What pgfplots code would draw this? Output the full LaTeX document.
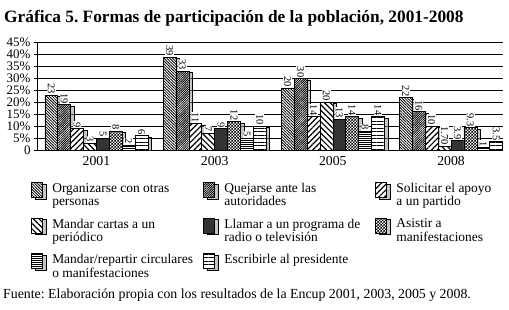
\documentclass[border=0pt]{standalone}
\usepackage{fontspec}
\setmainfont{Liberation Serif}
\usepackage{pgfplots}
\pgfplotsset{compat=1.18}
\usetikzlibrary{patterns,patterns.meta}
\frenchspacing

\pgfdeclarepatternformonly{checker}{\pgfqpoint{0pt}{0pt}}{\pgfqpoint{3pt}{3pt}}{\pgfqpoint{3pt}{3pt}}{%
 \pgfpathrectangle{\pgfqpoint{0pt}{0pt}}{\pgfqpoint{1.5pt}{1.5pt}}%
 \pgfpathrectangle{\pgfqpoint{1.5pt}{1.5pt}}{\pgfqpoint{1.5pt}{1.5pt}}%
 \pgfusepath{fill}}

\tikzset{
 barbase/.style={draw=black, line width=0.6bp,
   preaction={fill=black!45, fill opacity=0.5, transform canvas={xshift=3.5bp, yshift=-1.5bp}},
   preaction={fill=white}},
}

\begin{document}
\begin{tikzpicture}
\useasboundingbox (-37bp,-160bp) rectangle (472bp,150bp);
\node[anchor=base west, font=\fontsize{17.4}{19}\selectfont\bfseries, inner sep=0pt] at (-33bp,127bp) {Gráfica 5. Formas de participación de la población, 2001-2008};
\begin{axis}[
 at={(0,0)}, anchor=south west,
 scale only axis, width=466bp, height=107.5bp,
 ymin=0, ymax=45, ytick={0,5,...,45},
 yticklabels={0,5\%,10\%,15\%,20\%,25\%,30\%,35\%,40\%,45\%},
 xmin=-0.503, xmax=3.44,
 xtick={0,1,2,3}, xticklabels={2001,2003,2005,2008},
 ybar=0pt, bar width=12.9bp,
 axis x line*=bottom, axis y line*=left,
 axis line style={-, line width=0.8bp},
 ymajorgrids, grid style={black, line width=0.6bp},
 x tick style={draw=none},
 y tick style={black, line width=0.6bp},
 tick align=center, major tick length=6bp,
 yticklabel style={font=\fontsize{13}{14}\selectfont},
 xticklabel style={font=\fontsize{13.8}{15}\selectfont},
 point meta=explicit symbolic,
 nodes near coords,
 every node near coord/.append style={rotate=-90, anchor=east, font=\fontsize{10.5}{11}\selectfont, fill=white, inner sep=0.8bp},
 legend columns=3,
 legend cell align=left,
 legend image code/.code={\draw[#1] (0bp,-9bp) rectangle (11bp,6bp);},
 legend style={draw=none, fill=none, at={(-0.0193,-0.279)}, anchor=north west,
   font=\fontsize{13.5}{13.5}\selectfont,
   nodes={inner sep=0pt},
   /tikz/column sep=0pt, /tikz/row sep=20bp,
   /tikz/every odd column/.style={column sep=9.5bp}},
]
\addplot[barbase, pattern={Lines[angle=-45, distance=2bp, line width=0.8bp]}] coordinates {(0,23) [23] (1,39) [39] (2,26) [20] (3,22) [22]};
\addplot[barbase, pattern={Lines[angle=45, distance=1.6bp, line width=0.85bp]}] coordinates {(0,19) [19] (1,33) [33] (2,30) [30] (3,16) [16]};
\addplot[barbase, pattern={Lines[angle=45, distance=4bp, line width=1.2bp]}] coordinates {(0,9) [9] (1,11) [11] (2,14) [14] (3,10) [10]};
\addplot[barbase, pattern={Lines[angle=-45, distance=4bp, line width=1.2bp]}] coordinates {(0,3) [3] (1,7) [7] (2,20) [20] (3,1.7) [1.70]};
\addplot[barbase, fill=black!80] coordinates {(0,5) [5] (1,9) [9] (2,13) [13] (3,3.9) [3.9]};
\addplot[barbase, pattern=checker] coordinates {(0,8) [8] (1,12) [12] (2,14) [14] (3,9.3) [9.3]};
\addplot[barbase, pattern={Lines[angle=0, distance=2bp, line width=0.9bp]}] coordinates {(0,2) [2] (1,5) [5] (2,8) [8] (3,1) [1]};
\addplot[barbase, pattern={Lines[angle=0, distance=3.5bp, line width=0.7bp]}] coordinates {(0,6) [6] (1,10) [10] (2,14) [14] (3,3.5) [3.5]};
\addlegendentry{\parbox[t]{151bp}{Organizarse con otras\\personas}}
\addlegendentry{\parbox[t]{151bp}{Quejarse ante las\\autoridades}}
\addlegendentry{\parbox[t]{110bp}{Solicitar el apoyo\\a un partido}}
\addlegendentry{\parbox[t]{151bp}{Mandar cartas a un\\periódico}}
\addlegendentry{\parbox[t]{151bp}{Llamar a un programa de\\radio o televisión}}
\addlegendentry{\parbox[t]{110bp}{Asistir a\\manifestaciones}}
\addlegendentry{\parbox[t]{151bp}{Mandar/repartir circulares\\o manifestaciones}}
\addlegendentry{\parbox[t]{151bp}{Escribirle al presidente}}
\end{axis}
\node[anchor=base west, font=\fontsize{13.9}{15}\selectfont, inner sep=0pt] at (-34bp,-148.5bp) {Fuente: Elaboración propia con los resultados de la Encup 2001, 2003, 2005 y 2008.};
\end{tikzpicture}
\end{document}
